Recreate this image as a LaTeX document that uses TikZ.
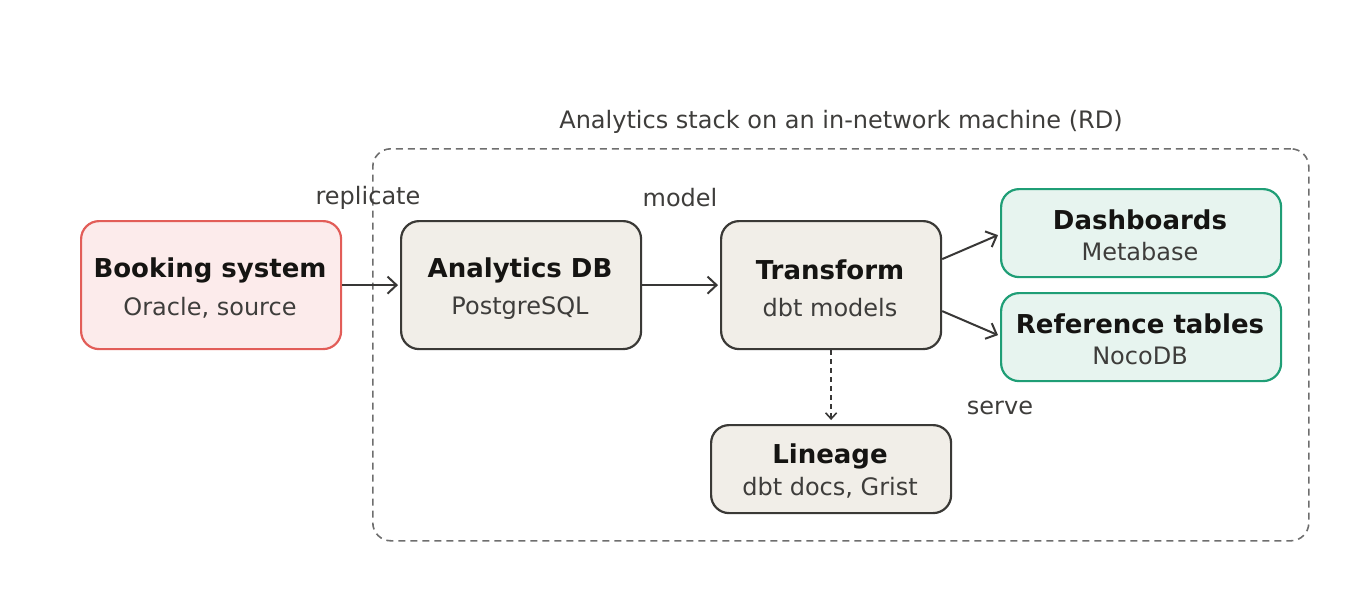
\documentclass[tikz,border=0pt]{standalone}
\usepackage{fontspec}
\setmainfont{DejaVu Sans}
\usetikzlibrary{arrows.meta}
\definecolor{txtdark}{HTML}{151412}
\definecolor{txtsub}{HTML}{3E3D3B}
\definecolor{redstroke}{HTML}{E25D58}
\definecolor{redfill}{HTML}{FCEBEB}
\definecolor{neustroke}{HTML}{3A3936}
\definecolor{neufill}{HTML}{F1EEE8}
\definecolor{grnstroke}{HTML}{1F9E76}
\definecolor{grnfill}{HTML}{E7F4EF}
\definecolor{dashgray}{HTML}{6E6E6E}
\tikzset{
  box/.style={draw, rounded corners=18pt, line width=2.2pt, inner sep=0pt, anchor=north west},
  srcbox/.style={box, draw=redstroke, fill=redfill},
  neubox/.style={box, draw=neustroke, fill=neufill},
  grnbox/.style={box, draw=grnstroke, fill=grnfill},
  ttl/.style={font=\fontsize{26}{30}\selectfont\bfseries, text=txtdark, inner sep=0pt, yshift=-2pt},
  sub/.style={font=\fontsize{24}{28}\selectfont, text=txtsub, inner sep=0pt, yshift=-2pt},
  lbl/.style={font=\fontsize{24}{28}\selectfont, text=txtsub, inner sep=0pt, yshift=-2pt},
  conn/.style={draw=txtdark!85, line width=2pt, -{Straight Barb[length=9pt,width=17pt]}},
}
\begin{document}
\begin{tikzpicture}[x=1pt,y=-1pt]
\useasboundingbox (0,0) rectangle (1360,600);
% container
\node[draw=dashgray, dashed, dash pattern=on 7pt off 5pt, line width=1.6pt, rounded corners=18pt, minimum width=936pt, minimum height=392pt, anchor=north west, inner sep=0pt] (stack) at (372,148) {};
\node[lbl] (stacklbl) at (841,120) {Analytics stack on an in-network machine (RD)};
% boxes
\node[srcbox, minimum width=260pt, minimum height=128pt] (book) at (80,220) {};
\node[neubox, minimum width=240pt, minimum height=128pt] (adb) at (400,220) {};
\node[neubox, minimum width=220pt, minimum height=128pt] (tr) at (720,220) {};
\node[grnbox, minimum width=280pt, minimum height=88pt] (dash) at (1000,188) {};
\node[grnbox, minimum width=280pt, minimum height=88pt] (ref) at (1000,292) {};
\node[neubox, minimum width=240pt, minimum height=88pt] (lin) at (710,424) {};
% texts
\node[ttl] (bookt) at (210,268) {Booking system};
\node[sub] (books) at (210,306) {Oracle, source};
\node[ttl] (adbt) at (520,268) {Analytics DB};
\node[sub] (adbs) at (520,306) {PostgreSQL};
\node[ttl] (trt) at (830,268) {Transform};
\node[sub] (trs) at (830,306) {dbt models};
\node[ttl] (dasht) at (1140,218) {Dashboards};
\node[sub] (dashs) at (1140,250) {Metabase};
\node[ttl] (reft) at (1140,322) {Reference tables};
\node[sub] (refs) at (1140,354) {NocoDB};
\node[ttl] (lint) at (830,454) {Lineage};
\node[sub] (lins) at (830,486) {dbt docs, Grist};
% labels
\node[lbl] (l1) at (368,196) {replicate};
\node[lbl] (l2) at (680,196) {model};
\node[lbl] (l3) at (1000,406) {serve};
% connectors
\draw[conn] (book.east) -- ([xshift=-2pt]adb.west);
\draw[conn] (adb.east) -- ([xshift=-2pt]tr.west);
\draw[conn] ([yshift=26pt]tr.east) -- ([xshift=-2pt,yshift=-2pt]dash.west);
\draw[conn] ([yshift=-26pt]tr.east) -- ([xshift=-2pt,yshift=2pt]ref.west);
\draw[conn, line width=1.6pt, dash pattern=on 5pt off 4pt, -{Straight Barb[length=6pt,width=11pt]}] (tr.south) -- ([yshift=4pt]lin.north);
\end{tikzpicture}
\end{document}
